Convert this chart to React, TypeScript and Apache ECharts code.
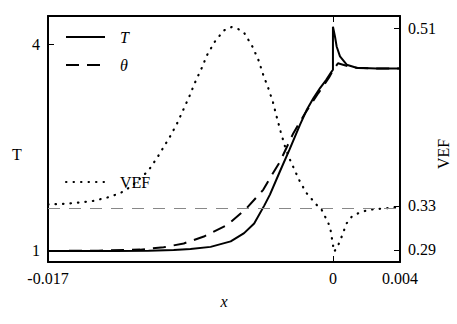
import React, { useEffect, useRef } from 'react';
import * as echarts from 'echarts';

const FONT = 'Liberation Serif, DejaVu Serif, serif';

const xTicks = [-0.017, 0, 0.004];
const xTickLabels = ['-0.017', '0', '0.004'];
const tTicks = [1, 4];
const tTickLabels = ['1', '4'];
const vefTicks = [0.2887, 0.3327, 0.51];
const vefTickLabels = ['0.29', '0.33', '0.51'];
const vefReference = 0.3327;

const tX = [-0.017, -0.013, -0.011, -0.0095, -0.0085, -0.0073, -0.0061, -0.0053, -0.0047, -0.0041, -0.00376, -0.00316, -0.0026, -0.00197, -0.00157, -0.00117, -0.00077, -0.0004, -0.00008, 0, 0, 0.00012, 0.00022, 0.00042, 0.00082, 0.0014, 0.0026, 0.004];
const tY = [1.0, 1.0, 1.004, 1.015, 1.03, 1.06, 1.14, 1.26, 1.4, 1.66, 1.82, 2.16, 2.47, 2.835, 3.05, 3.22, 3.37, 3.49, 3.61, 3.636, 4.262, 4.12, 3.975, 3.83, 3.71, 3.665, 3.655, 3.655];

const thetaX = [-0.017, -0.014, -0.0115, -0.0101, -0.0089, -0.0077, -0.0063, -0.0052, -0.00416, -0.00376, -0.00316, -0.00237, -0.00167, -0.00087, -0.00024, 0, 0.0003, 0.0006, 0.001, 0.0015, 0.0025, 0.004];
const thetaY = [1.0, 1.005, 1.02, 1.054, 1.11, 1.21, 1.38, 1.61, 1.89, 2.06, 2.3, 2.71, 3.0, 3.297, 3.52, 3.625, 3.73, 3.71, 3.68, 3.662, 3.655, 3.655];

const vefX = [-0.017, -0.01609, -0.01519, -0.0143, -0.0134, -0.0127, -0.01221, -0.01181, -0.01121, -0.01091, -0.01042, -0.00972, -0.00929, -0.00893, -0.00857, -0.00823, -0.00783, -0.0075, -0.00704, -0.0065, -0.00604, -0.00565, -0.00529, -0.00481, -0.00445, -0.00416, -0.00386, -0.00359, -0.00336, -0.00312, -0.00286, -0.00256, -0.0022, -0.00197, -0.00157, -0.00097, -0.00067, -0.00027, -0.00012, -0.00002, 0.00008, 0.00032, 0.00052, 0.00082, 0.00112, 0.00151, 0.00191, 0.00241, 0.00324, 0.0038, 0.004];
const vefY = [0.3342, 0.3347, 0.336, 0.3377, 0.3414, 0.3454, 0.3504, 0.3554, 0.3647, 0.3704, 0.3827, 0.402, 0.4154, 0.4287, 0.442, 0.456, 0.4704, 0.4837, 0.497, 0.508, 0.5114, 0.5094, 0.5054, 0.492, 0.4787, 0.4637, 0.4504, 0.437, 0.422, 0.407, 0.392, 0.3787, 0.3654, 0.357, 0.3454, 0.3337, 0.3287, 0.3154, 0.307, 0.2954, 0.287, 0.2937, 0.302, 0.3154, 0.322, 0.3254, 0.3277, 0.3294, 0.3304, 0.3314, 0.3315];

const zip = (xs: number[], ys: number[]) => xs.map((x, i) => [x, ys[i]]);
const labelFor = (ticks: number[], labels: string[]) => (v: number) => {
  let best = 0;
  for (let i = 1; i < ticks.length; i++) {
    if (Math.abs(ticks[i] - v) < Math.abs(ticks[best] - v)) best = i;
  }
  return labels[best];
};

const tickStyle = { show: true, inside: true, length: 6, lineStyle: { color: '#000', width: 1 } };
const lineAxis = { show: true, onZero: false, lineStyle: { color: '#000', width: 2 } };
const labelStyle = { color: '#000', fontFamily: FONT, fontSize: 16 };
const hiddenSymbol = { color: 'transparent', borderColor: 'transparent', borderWidth: 0, opacity: 0 };

export default function App() {
  const ref = useRef<HTMLDivElement>(null);
  useEffect(() => {
    if (!ref.current) return;
    const chart = echarts.init(ref.current, undefined, { renderer: 'svg' });
    chart.setOption({
      animation: false,
      backgroundColor: '#fff',
      textStyle: { fontFamily: FONT },
      grid: { left: 48, right: 57, top: 16, bottom: 62, containLabel: false },
      xAxis: [
        {
          type: 'value', min: -0.017, max: 0.004, position: 'bottom',
          axisLine: lineAxis,
          axisTick: { ...tickStyle, customValues: xTicks },
          axisLabel: { ...labelStyle, margin: 8, customValues: xTicks, formatter: labelFor(xTicks, xTickLabels), showMinLabel: true, showMaxLabel: true },
          splitLine: { show: false },
        },
        {
          type: 'value', min: -0.017, max: 0.004, position: 'top',
          axisLine: lineAxis,
          axisTick: { ...tickStyle, customValues: [0] },
          axisLabel: { show: false },
          splitLine: { show: false },
        },
      ],
      yAxis: [
        {
          type: 'value', min: 0.84, max: 4.418, position: 'left',
          axisLine: lineAxis,
          axisTick: { ...tickStyle, customValues: tTicks },
          axisLabel: { ...labelStyle, margin: 8, customValues: tTicks, formatter: labelFor(tTicks, tTickLabels) },
          splitLine: { show: false },
        },
        {
          type: 'value', min: 0.2767, max: 0.5224, position: 'right',
          axisLine: lineAxis,
          axisTick: { ...tickStyle, customValues: vefTicks },
          axisLabel: { ...labelStyle, margin: 8, customValues: vefTicks, formatter: labelFor(vefTicks, vefTickLabels) },
          splitLine: { show: false },
        },
      ],
      legend: [
        {
          data: ['T', 'θ'], orient: 'vertical', left: 60, top: 24,
          itemWidth: 39, itemHeight: 14, itemGap: 12,
          itemStyle: hiddenSymbol,
          textStyle: { color: '#000', fontFamily: FONT, fontSize: 16, fontStyle: 'italic', padding: [0, 0, 0, 10] },
          selectedMode: false,
        },
        {
          data: ['VEF'], orient: 'vertical', left: 60, top: 169,
          itemWidth: 39, itemHeight: 14,
          itemStyle: hiddenSymbol,
          textStyle: { color: '#000', fontFamily: FONT, fontSize: 16, padding: [0, 0, 0, 10] },
          selectedMode: false,
        },
      ],
      series: [
        {
          name: 'VEF', type: 'line', xAxisIndex: 0, yAxisIndex: 1, data: zip(vefX, vefY),
          showSymbol: false, symbol: 'none', smooth: false,
          lineStyle: { color: '#000', width: 2.2, type: [0.5, 7], cap: 'round' },
          itemStyle: { color: '#000' },
          markLine: {
            silent: true, symbol: 'none', label: { show: false },
            lineStyle: { color: '#888', width: 1, type: [12, 9] },
            data: [{ yAxis: vefReference }],
          },
        },
        {
          name: 'θ', type: 'line', xAxisIndex: 0, yAxisIndex: 0, data: zip(thetaX, thetaY),
          showSymbol: false, symbol: 'none',
          lineStyle: { color: '#000', width: 2, type: [13, 8] },
          itemStyle: { color: '#000' },
        },
        {
          name: 'T', type: 'line', xAxisIndex: 0, yAxisIndex: 0, data: zip(tX, tY),
          showSymbol: false, symbol: 'none',
          lineStyle: { color: '#000', width: 2 },
          itemStyle: { color: '#000' },
        },
      ],
      graphic: [
        { type: 'text', x: 17, y: 154, style: { text: 'T', fontFamily: FONT, fontSize: 16, fill: '#000', align: 'center', verticalAlign: 'middle' } },
        { type: 'text', x: 224, y: 301, style: { text: 'x', fontFamily: FONT, fontSize: 16, fontStyle: 'italic', fill: '#000', align: 'center', verticalAlign: 'middle' } },
        { type: 'text', x: 443, y: 154, rotation: Math.PI / 2, style: { text: 'VEF', fontFamily: FONT, fontSize: 16, fill: '#000', align: 'center', verticalAlign: 'middle' } },
      ],
    });
    return () => chart.dispose();
  }, []);
  return <div ref={ref} style={{ position: 'fixed', left: 0, top: 0, width: 457, height: 324 }} />;
}
